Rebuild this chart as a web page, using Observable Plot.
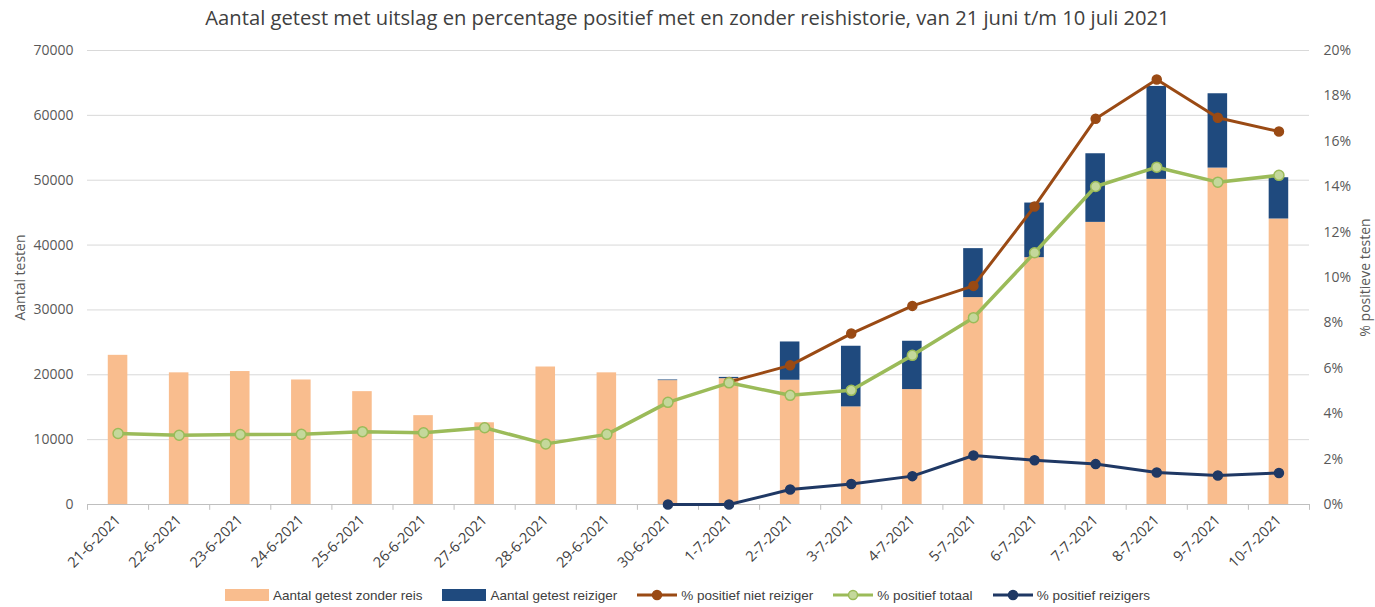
<!DOCTYPE html>
<html>
<head>
<meta charset="utf-8">
<script src="https://cdn.jsdelivr.net/npm/d3@7"></script>
<script src="https://cdn.jsdelivr.net/npm/@observablehq/plot@0.6"></script>
<style>
  body { margin: 0; background: #fff; font-family: "Open Sans", "Liberation Sans", sans-serif; }
  #title { text-align: center; font-size: 20.2px; line-height: 26px; margin-top: 4px; height: 26px; color: #404040; }
  #legend { display: flex; justify-content: center; align-items: center; gap: 20px; margin-top: 5px; height: 20px;
            font-family: "Liberation Sans Narrow", "Liberation Sans", sans-serif; font-stretch: condensed; font-size: 13.5px; color: #404040; }
  .item { display: flex; align-items: center; gap: 4px; }
  .sw { width: 44px; height: 12px; }
</style>
</head>
<body>
<div id="title">Aantal getest met uitslag en percentage positief met en zonder reishistorie, van 21 juni t/m 10 juli 2021</div>
<div id="chart"></div>
<div id="legend"></div>
<script>
const dates = ["21-6-2021","22-6-2021","23-6-2021","24-6-2021","25-6-2021","26-6-2021","27-6-2021","28-6-2021","29-6-2021","30-6-2021",
  "1-7-2021","2-7-2021","3-7-2021","4-7-2021","5-7-2021","6-7-2021","7-7-2021","8-7-2021","9-7-2021","10-7-2021"];
const zonderReis = [23000,20300,20500,19200,17400,13700,12600,21200,20300,19100,19400,19160,15050,17720,31900,38060,43500,50130,51870,44020];
const reiziger   = [0,0,0,0,0,0,0,0,0,100,200,5900,9350,7450,7550,8420,10580,14330,11460,6360];
const pctNietReiziger = [null,null,null,null,null,null,null,null,null,null,5.40,6.13,7.53,8.75,9.63,13.13,16.99,18.72,17.04,16.43];
const pctTotaal = [3.13,3.05,3.08,3.09,3.21,3.16,3.38,2.67,3.09,4.50,5.36,4.81,5.03,6.57,8.23,11.09,14.01,14.86,14.20,14.50];
const pctReizigers = [null,null,null,null,null,null,null,null,null,0,0,0.66,0.90,1.25,2.16,1.95,1.78,1.41,1.28,1.39];

const seriesNames = ["Aantal getest zonder reis","Aantal getest reiziger","% positief niet reiziger","% positief totaal","% positief reizigers"];
const axisTitles = ["Aantal testen", "% positieve testen"];
const colors = {bar1:"#f9bd8e", bar2:"#1f4a7e", brown:"#9a4a14", green:"#9bbb59", greenFill:"#c4d89b", navy:"#1f3864"};

const leftTicks = [0,10000,20000,30000,40000,50000,60000,70000];
const rightTicks = [0,2,4,6,8,10,12,14,16,18,20];
const pctToY = 70000 / 20;

const bars = [];
dates.forEach((d,i) => {
  bars.push({date:d, series:seriesNames[0], value:zonderReis[i]});
  bars.push({date:d, series:seriesNames[1], value:reiziger[i]});
});
const lineData = (arr) => dates.map((d,i) => ({date:d, v:arr[i]})).filter(o => o.v != null).map(o => ({date:o.date, y:o.v*pctToY}));

const width = 1375, marginLeft = 87, marginRight = 66;
const step = (width - marginLeft - marginRight) / dates.length;

const chart = Plot.plot({
  width, height: 550,
  marginLeft, marginRight, marginTop: 20, marginBottom: 76,
  style: {fontFamily: "'Open Sans', 'Liberation Sans', sans-serif", color: "#595959", background: "#fff"},
  x: {type: "band", domain: dates, paddingInner: 0.68, paddingOuter: 0.34, round: false, label: null},
  y: {domain: [0, 70000], label: null},
  color: {domain: seriesNames.slice(0,2), range: [colors.bar1, colors.bar2]},
  marks: [
    Plot.gridY(leftTicks.slice(1), {stroke: "#d9d9d9", strokeOpacity: 1}),
    Plot.ruleY([0], {stroke: "#bfbfbf"}),
    Plot.ruleX(dates, {x: d => d, dx: -step/2, y1: 0, y2: -900, stroke: "#bfbfbf"}),
    Plot.ruleX(dates.slice(-1), {x: d => d, dx: step/2, y1: 0, y2: -900, stroke: "#bfbfbf"}),
    Plot.barY(bars, {x: "date", y: "value", fill: "series"}),
    Plot.line(lineData(pctNietReiziger), {x: "date", y: "y", stroke: colors.brown, strokeWidth: 3}),
    Plot.dot(lineData(pctNietReiziger), {x: "date", y: "y", r: 4.5, fill: colors.brown, stroke: colors.brown}),
    Plot.line(lineData(pctTotaal), {x: "date", y: "y", stroke: colors.green, strokeWidth: 3.5}),
    Plot.dot(lineData(pctTotaal), {x: "date", y: "y", r: 5, fill: colors.greenFill, stroke: colors.green, strokeWidth: 1.5}),
    Plot.line(lineData(pctReizigers), {x: "date", y: "y", stroke: colors.navy, strokeWidth: 3}),
    Plot.dot(lineData(pctReizigers), {x: "date", y: "y", r: 4.5, fill: colors.navy, stroke: colors.navy}),
    Plot.axisY({anchor: "left", ticks: leftTicks, tickFormat: d => String(d), tickSize: 0, tickPadding: 14, fontSize: 14, label: null}),
    Plot.axisY({anchor: "right", ticks: rightTicks.map(p => p*pctToY), tickFormat: d => Math.round(d/pctToY) + "%", tickSize: 0, tickPadding: 14, fontSize: 14, label: null}),
    Plot.text([axisTitles[0]], {text: d => d, frameAnchor: "left", textAnchor: "middle", rotate: -90, dx: -67, fontSize: 14, fill: "#595959"}),
    Plot.text([axisTitles[1]], {text: d => d, frameAnchor: "right", textAnchor: "middle", rotate: -90, dx: 56, fontSize: 14, fill: "#595959"}),
    Plot.axisX({tickRotate: -45, tickSize: 0, tickPadding: 13, fontSize: 14.5, fill: "#404040", label: null})
  ]
});
document.getElementById("chart").appendChild(chart);

const legend = document.getElementById("legend");
const items = [
  {name: seriesNames[0], type: "bar", color: colors.bar1},
  {name: seriesNames[1], type: "bar", color: colors.bar2},
  {name: seriesNames[2], type: "line", color: colors.brown, fill: colors.brown},
  {name: seriesNames[3], type: "line", color: colors.green, fill: colors.greenFill},
  {name: seriesNames[4], type: "line", color: colors.navy, fill: colors.navy}
];
items.forEach(it => {
  const el = document.createElement("div");
  el.className = "item";
  if (it.type === "bar") {
    el.innerHTML = `<div class="sw" style="background:${it.color}"></div><span>${it.name}</span>`;
  } else {
    el.innerHTML = `<svg width="40" height="12"><line x1="0" x2="40" y1="6" y2="6" stroke="${it.color}" stroke-width="3"/><circle cx="20" cy="6" r="4.5" fill="${it.fill}" stroke="${it.color}" stroke-width="1.5"/></svg><span>${it.name}</span>`;
  }
  legend.appendChild(el);
});
</script>
</body>
</html>
